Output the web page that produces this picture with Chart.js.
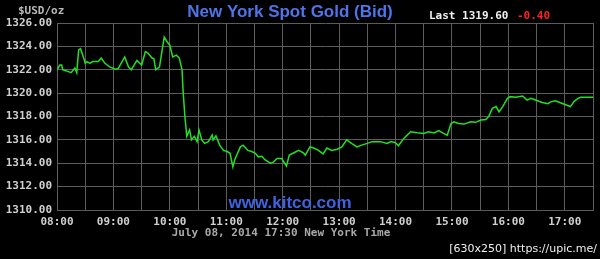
<!DOCTYPE html>
<html>
<head>
<meta charset="utf-8">
<script src="https://cdn.jsdelivr.net/npm/chart.js@4"></script>
<style>
html,body{margin:0;padding:0;background:#000;}
#wrap{width:600px;height:259px;position:relative;}
</style>
</head>
<body>
<div id="wrap"><canvas id="c" width="600" height="259"></canvas></div>
<script>
// minutes after 08:00 (New York time)
const minutes = [0,3,5,6,10,15,19,21,23,25,28,30,32,35,38,44,47,51,56,62,65,72,76,79,85,90,94,97,101,103,105,109,114,117,120,123,127,130,133,134,136,138,141,143,146,149,151,154,157,161,165,166,169,173,177,181,184,187,189,195,198,203,207,211,214,218,221,227,230,234,239,244,247,252,257,262,264,269,273,278,283,287,292,298,303,308,314,319,324,330,335,344,351,355,360,363,369,376,383,390,395,401,406,411,415,419,422,427,433,440,445,451,456,459,463,467,470,474,479,482,488,495,500,504,511,516,522,525,530,536,541,546,550,554,557,570];
const prices = [1322.0,1322.4,1322.4,1322.0,1321.9,1321.75,1322.15,1321.75,1323.7,1323.8,1323.1,1322.55,1322.7,1322.55,1322.7,1322.7,1323.0,1322.55,1322.25,1322.05,1322.1,1323.1,1322.25,1322.0,1322.8,1322.4,1323.55,1323.4,1323.0,1322.95,1322.0,1322.25,1324.8,1324.4,1324.1,1323.1,1323.25,1323.0,1322.0,1320.3,1318.0,1316.3,1316.85,1316.0,1316.3,1315.85,1316.85,1316.0,1315.7,1315.85,1316.4,1316.0,1316.35,1315.55,1315.1,1315.0,1314.85,1313.7,1314.3,1315.4,1315.55,1315.1,1315.0,1314.85,1314.55,1314.6,1314.3,1314.0,1314.1,1314.4,1314.4,1313.75,1314.7,1314.9,1315.1,1314.9,1314.7,1315.4,1315.3,1315.1,1314.8,1315.3,1315.1,1315.2,1315.4,1316.0,1315.65,1315.4,1315.55,1315.7,1315.85,1315.85,1315.7,1315.85,1315.75,1315.5,1316.15,1316.7,1316.6,1316.55,1316.7,1316.6,1316.8,1316.55,1316.4,1317.4,1317.55,1317.4,1317.35,1317.55,1317.5,1317.7,1317.75,1318.0,1318.7,1318.85,1318.4,1318.85,1319.55,1319.7,1319.65,1319.75,1319.4,1319.55,1319.35,1319.2,1319.1,1319.25,1319.35,1319.15,1319.0,1318.85,1319.3,1319.55,1319.65,1319.65];
const hourLabels = ["08:00","09:00","10:00","11:00","12:00","13:00","14:00","15:00","16:00","17:00"];
const yMin = 1310, yMax = 1326, yStep = 2;
const titleText = "New York Spot Gold (Bid)";
const lastText = "Last 1319.60";
const changeText = "-0.40";
const unitText = "$USD/oz";
const siteText = "www.kitco.com";
const dateText = "July 08, 2014 17:30 New York Time";
const stampText = "[630x250] https://upic.me/";

const points = minutes.map((m, i) => ({x: m, y: prices[i]}));
const mono = "'DejaVu Sans Mono', monospace";

const textPlugin = {
  id: 'texts',
  beforeDraw(chart) {
    const ctx = chart.ctx;
    ctx.save();
    ctx.fillStyle = '#000';
    ctx.fillRect(0, 0, chart.width, chart.height);
    ctx.restore();
  },
  afterDraw(chart) {
    const ctx = chart.ctx;
    ctx.save();
    ctx.textBaseline = 'middle';
    // unit
    ctx.font = "bold 11px " + mono;
    ctx.fillStyle = '#b8b8b8';
    ctx.textAlign = 'left';
    ctx.fillText(unitText, 18, 11);
    // title
    ctx.font = "bold 17px 'Liberation Sans', Arial, sans-serif";
    ctx.fillStyle = '#4f73e8';
    ctx.textAlign = 'center';
    ctx.fillText(titleText, 290, 12);
    // last
    ctx.font = "bold 11px " + mono;
    ctx.textAlign = 'left';
    ctx.fillStyle = '#f0f0f0';
    ctx.fillText(lastText, 429, 16);
    ctx.fillStyle = '#ff2020';
    ctx.fillText(changeText, 517, 16);
    // site
    ctx.font = "bold 17px 'Liberation Sans', Arial, sans-serif";
    ctx.fillStyle = '#3f63e0';
    ctx.textAlign = 'center';
    ctx.fillText(siteText, 290, 203);
    // date
    ctx.font = "bold 11px " + mono;
    ctx.fillStyle = '#a8a8a8';
    ctx.fillText(dateText, 281, 233);
    // stamp
    ctx.font = "11px 'DejaVu Sans', sans-serif";
    ctx.fillStyle = '#f0f0f0';
    ctx.textAlign = 'right';
    ctx.fillText(stampText, 597, 249);
    ctx.restore();
  }
};

new Chart(document.getElementById('c'), {
  type: 'line',
  data: {
    datasets: [{
      data: points,
      borderColor: '#22e022',
      borderWidth: 1.5,
      pointRadius: 0,
      tension: 0,
      fill: false
    }]
  },
  options: {
    responsive: false,
    animation: false,
    events: [],
    layout: {padding: {top: 23, right: 7, left: 0, bottom: 0}},
    plugins: {legend: {display: false}, tooltip: {enabled: false}},
    scales: {
      x: {
        type: 'linear',
        min: 0, max: 570,
        afterFit(s) { s.height = 49; },
        grid: {color: '#5c5c5c', lineWidth: 1, drawTicks: false},
        border: {color: '#5c5c5c'},
        ticks: {
          stepSize: 30,
          autoSkip: false,
          maxRotation: 0,
          padding: 6,
          color: '#d0d0d0',
          font: {family: mono, size: 11, weight: 'bold'},
          callback: (v) => (v % 60 === 0 ? hourLabels[v / 60] : '')
        }
      },
      y: {
        min: yMin, max: yMax,
        afterFit(s) { s.width = 57; },
        grid: {color: '#5c5c5c', lineWidth: 1, drawTicks: false},
        border: {color: '#5c5c5c'},
        ticks: {
          stepSize: yStep,
          padding: 5,
          color: '#d0d0d0',
          font: {family: mono, size: 11, weight: 'bold'},
          callback: (v) => v.toFixed(2)
        }
      }
    }
  },
  plugins: [textPlugin]
});
</script>
</body>
</html>
